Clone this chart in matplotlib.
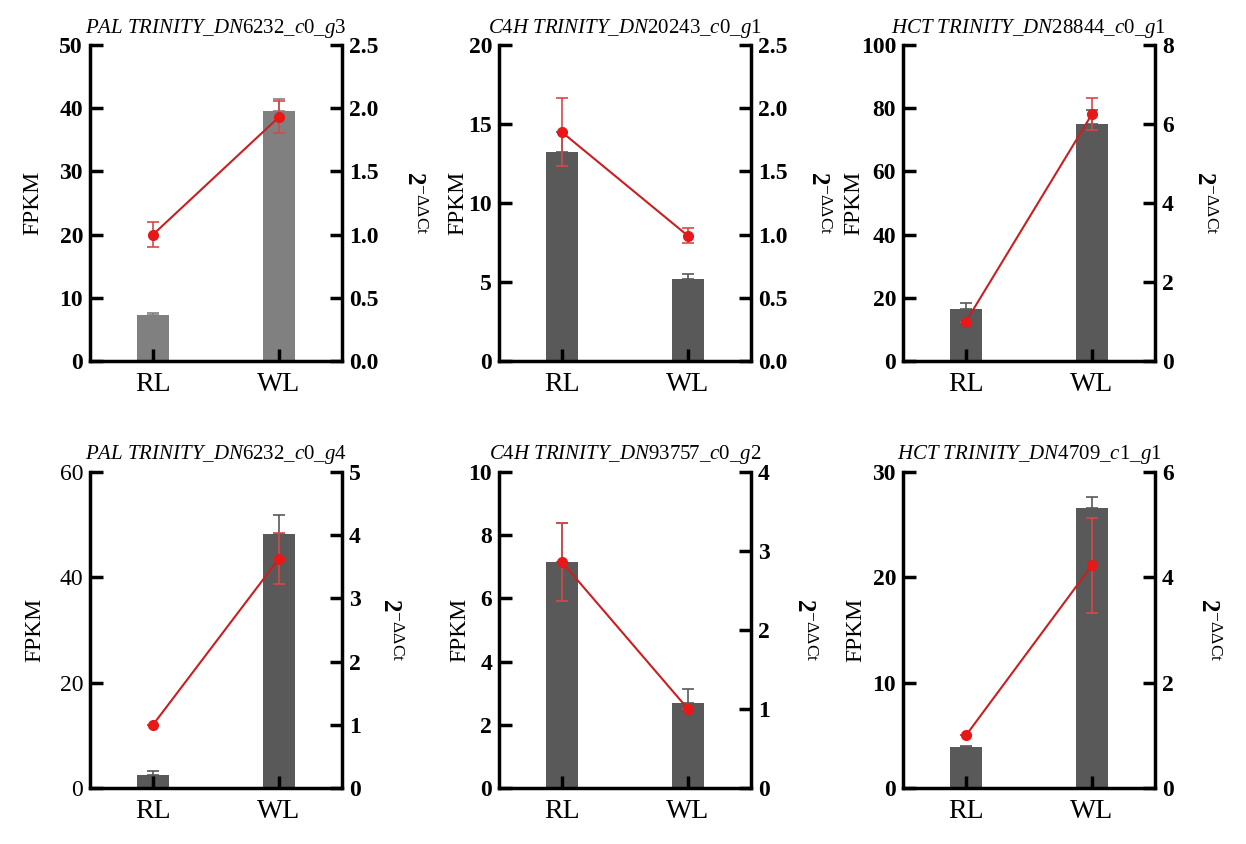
import matplotlib
matplotlib.use('Agg')
import matplotlib.pyplot as plt
from matplotlib.ticker import MultipleLocator

plt.rcParams['font.family'] = 'Liberation Serif'
plt.rcParams['mathtext.fontset'] = 'custom'
plt.rcParams['mathtext.rm'] = 'Liberation Serif'
plt.rcParams['mathtext.it'] = 'Liberation Serif:italic'
plt.rcParams['mathtext.bf'] = 'Liberation Serif:bold'

groups = ['RL', 'WL']
titles = [r'$\it{PAL\ TRINITY\_DN}\rm{6232}\it{\_c0\_g}\rm{3}$',
          r'$\it{C4H\ TRINITY\_DN}\rm{20243}\it{\_c0\_g}\rm{1}$',
          r'$\it{HCT\ TRINITY\_DN}\rm{28844}\it{\_c0\_g}\rm{1}$',
          r'$\it{PAL\ TRINITY\_DN6232\_c0\_g4}$',
          r'$\it{C4H\ TRINITY\_DN93757\_c0\_g2}$',
          r'$\it{HCT\ TRINITY\_DN}\rm{4709}\it{\_c}\rm{1}\it{\_g}\rm{1}$']

# FPKM (bars, left axis)
fpkm = [[7.3, 39.6], [13.2, 5.2], [16.5, 74.9], [2.5, 48.3], [7.15, 2.7], [3.9, 26.6]]
fpkm_err = [[0.3, 1.8], [1.3, 0.3], [1.8, 4.4], [0.8, 3.6], [1.25, 0.42], [0.13, 1.05]]
# qPCR 2^-ddCt (red line, right axis)
qpcr = [[1.0, 1.93], [1.81, 0.99], [1.0, 6.25], [1.0, 3.63], [2.86, 1.0], [1.0, 4.23]]
qpcr_err = [[0.1, 0.13], [0.27, 0.06], [0.0, 0.4], [0.0, 0.4], [0.49, 0.0], [0.0, 0.9]]

fpkm_max = [50, 20, 100, 60, 10, 30]
fpkm_step = [10, 5, 20, 20, 2, 10]
qpcr_max = [2.5, 2.5, 8, 5, 4, 6]
qpcr_step = [0.5, 0.5, 2, 1, 1, 2]
bar_colors = ['#808080', '#595959', '#595959', '#595959', '#595959', '#595959']
left_bold = [True, True, True, False, True, True]

# label positions in axes coords (left FPKM label, right 2^-ddCt label)
left_lab_x = [-0.185, -0.12, -0.155, -0.178, -0.115, -0.145]
right_lab_x = [1.285, 1.265, 1.195, 1.19, 1.21, 1.21]

W, H = 1246, 844
fig = plt.figure(figsize=(W / 100, H / 100), dpi=100)

lefts = [90, 499, 903]
tops = [45, 472]
aw, ah = 252, 316

for i in range(6):
    l = lefts[i % 3]
    t = tops[i // 3]
    ax = fig.add_axes([l / W, (H - t - ah) / H, aw / W, ah / H])
    ax.set_axisbelow(False)
    x = range(len(groups))
    ax.bar(x, fpkm[i], width=0.25, color=bar_colors[i],
           yerr=[[0, 0], fpkm_err[i]],
           error_kw=dict(ecolor=bar_colors[i], elinewidth=1.2, capsize=4, capthick=1.2),
           zorder=2)
    ax.set_xlim(-0.5, 1.5)
    ax.set_ylim(0, fpkm_max[i])
    ax.yaxis.set_major_locator(MultipleLocator(fpkm_step[i]))
    ax.set_xticks(list(x))
    ax.set_xticklabels(groups, fontsize=20)
    ax.set_ylabel('FPKM', fontsize=17)
    ax.yaxis.set_label_coords(left_lab_x[i], 0.5)
    ax.set_title(titles[i], fontsize=15, pad=9)
    for s in ['top', 'right']:
        ax.spines[s].set_visible(False)
    for s in ['left', 'bottom']:
        ax.spines[s].set_linewidth(2.5)
    ax.tick_params(axis='both', direction='in', length=9, width=2.5)
    ax.tick_params(axis='x', pad=8)
    ax.tick_params(axis='y', labelsize=17, pad=5)
    if left_bold[i]:
        for lab in ax.get_yticklabels():
            lab.set_fontweight('bold')

    ax2 = ax.twinx()
    ax2.errorbar(x, qpcr[i], yerr=qpcr_err[i], fmt='none', ecolor='#d84848',
                 elinewidth=1.2, capsize=4, capthick=1.2, zorder=3)
    ax2.plot(x, qpcr[i], color='#c82020', lw=1.5, marker='o', ms=7,
             mfc='#e81818', mec='#e81818', zorder=4)
    ax2.set_ylim(0, qpcr_max[i])
    ax2.yaxis.set_major_locator(MultipleLocator(qpcr_step[i]))
    for s in ['top', 'left', 'bottom']:
        ax2.spines[s].set_visible(False)
    ax2.spines['right'].set_linewidth(2.5)
    ax2.tick_params(axis='y', direction='in', length=9, width=2.5, labelsize=17, pad=5)
    for lab in ax2.get_yticklabels():
        lab.set_fontweight('bold')
    ax2.set_ylabel(r'$\mathbf{2}^{-\Delta\Delta\mathrm{Ct}}$', fontsize=18,
                   rotation=270, va='center')
    ax2.yaxis.set_label_coords(right_lab_x[i], 0.5)

fig.savefig('out.png', dpi=100)
